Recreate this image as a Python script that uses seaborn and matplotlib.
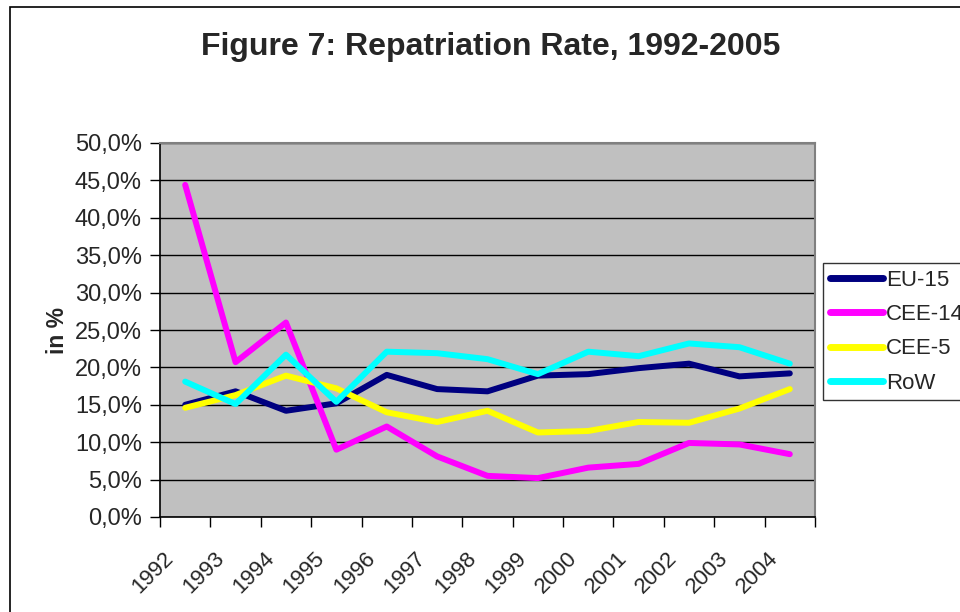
import numpy as np
import pandas as pd
import seaborn as sns
import matplotlib.pyplot as plt
from matplotlib.patches import Rectangle
from matplotlib.transforms import ScaledTranslation

# ── data ──────────────────────────────────────────────────────────────────────
years = ["1992", "1993", "1994", "1995", "1996", "1997", "1998",
         "1999", "2000", "2001", "2002", "2003", "2004"]
eu15  = [15.0, 16.8, 14.2, 15.2, 19.0, 17.1, 16.8, 18.9, 19.1, 19.9, 20.5, 18.8, 19.2]
cee14 = [44.4, 20.7, 26.0, 9.0, 12.1, 8.1, 5.5, 5.2, 6.6, 7.1, 9.9, 9.7, 8.4]
cee5  = [14.6, 16.3, 18.9, 17.2, 14.0, 12.7, 14.2, 11.3, 11.5, 12.7, 12.6, 14.5, 17.1]
row   = [18.1, 15.1, 21.7, 15.4, 22.1, 21.9, 21.1, 19.1, 22.1, 21.5, 23.2, 22.7, 20.5]

series = {"EU-15": eu15, "CEE-14": cee14, "CEE-5": cee5, "RoW": row}
colors = {"EU-15": "#000080", "CEE-14": "#FF00FF", "CEE-5": "#FFFF00", "RoW": "#00FFFF"}

df = pd.concat(
    [pd.DataFrame({"idx": np.arange(len(years)), "rate": v, "region": k})
     for k, v in series.items()],
    ignore_index=True,
)

# ── figure ────────────────────────────────────────────────────────────────────
sns.set_theme(style="white")
plt.rcParams["font.family"] = ["Liberation Sans", "DejaVu Sans"]

fig = plt.figure(figsize=(9.6, 6.12), dpi=100)
ax = fig.add_axes([160 / 960, 1 - 517 / 612, 655 / 960, 374 / 612])
ax.set_facecolor("#C0C0C0")

sns.lineplot(data=df, x="idx", y="rate", hue="region", palette=colors,
             linewidth=4.3, ax=ax, legend=False, solid_capstyle="round")

ax.set_xlim(-0.5, len(years) - 0.5)
ax.set_ylim(0, 50)

# y axis
yt = np.arange(0, 50.1, 5)
ax.set_yticks(yt)
ax.set_yticklabels([f"{v:.1f}%".replace(".", ",") for v in yt], fontsize=17)
ax.yaxis.grid(True, color="black", linewidth=1)
ax.tick_params(axis="y", direction="out", length=7, width=1, color="black",
               left=True, pad=6)

# x axis: ticks between categories, labels at centers
ax.set_xticks(np.arange(-0.5, len(years), 1))
ax.set_xticklabels([])
ax.set_xticks(np.arange(len(years)), minor=True)
ax.tick_params(axis="x", which="major", direction="out", length=7, width=1,
               color="black", bottom=True)
ax.tick_params(axis="x", which="minor", length=0, pad=22)
ax.set_xticklabels(years, minor=True, rotation=45, ha="right",
                   rotation_mode="anchor", fontsize=16)
# nudge labels left so they end just before the category centre (Excel look)
shift = ScaledTranslation(-22 / 100, 0, fig.dpi_scale_trans)
for lbl in ax.get_xticklabels(minor=True):
    lbl.set_transform(lbl.get_transform() + shift)

for side in ["top", "right"]:
    ax.spines[side].set_color("#808080")
    ax.spines[side].set_linewidth(1.5)
for side in ["left", "bottom"]:
    ax.spines[side].set_color("black")
    ax.spines[side].set_linewidth(1.2)

ax.set_xlabel("")
ax.set_ylabel("")
fig.text(57 / 960, 1 - 330 / 612, "in %", rotation=90, fontsize=16.5,
         fontweight="bold", ha="center", va="center")

fig.text(491 / 960, 1 - 47 / 612, "Figure 7: Repatriation Rate, 1992-2005",
         fontsize=23, fontweight="bold", ha="center", va="center")

# legend
handles = [plt.Line2D([], [], color=colors[k], linewidth=5, solid_capstyle="round")
           for k in series]
leg = fig.legend(handles, list(series.keys()), loc="upper left",
                 bbox_to_anchor=(823 / 960, 1 - 263 / 612), fontsize=16,
                 frameon=True, fancybox=False, handlelength=2.4,
                 handletextpad=0.15, borderpad=0.3, labelspacing=0.6,
                 borderaxespad=0)
leg.get_frame().set_edgecolor("black")
leg.get_frame().set_linewidth(1)

# outer chart border (only left and top edges fall inside the image)
fig.patches.append(Rectangle((10 / 960, -0.1), 1.2, 1.1 - 7 / 612,
                             transform=fig.transFigure, fill=False,
                             edgecolor="black", linewidth=1.2))

fig.savefig("out.png", dpi=100)
